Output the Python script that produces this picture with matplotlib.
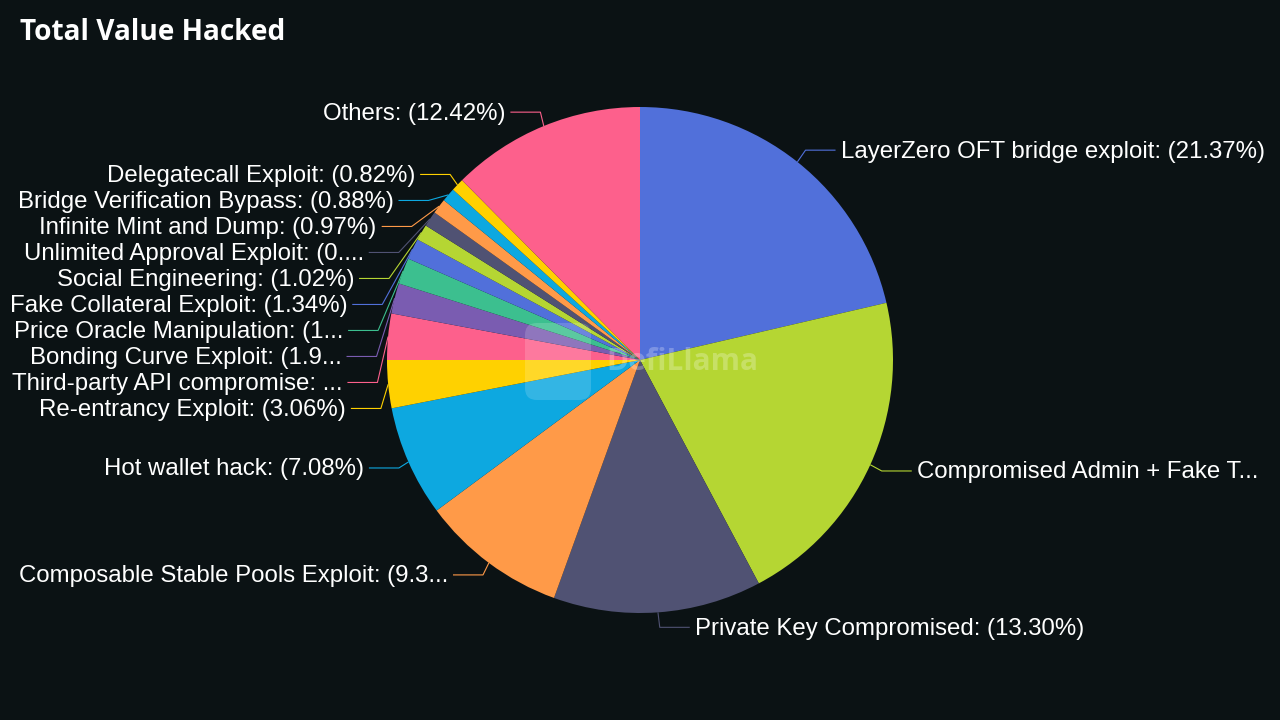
import numpy as np
import matplotlib
matplotlib.use('Agg')
import matplotlib.pyplot as plt
from matplotlib.patches import FancyBboxPatch

# hack categories and their share of total value hacked (%)
categories = ['LayerZero OFT bridge exploit', 'Compromised Admin + Fake Token Minting',
              'Private Key Compromised', 'Composable Stable Pools Exploit', 'Hot wallet hack',
              'Re-entrancy Exploit', 'Third-party API compromise', 'Bonding Curve Exploit',
              'Price Oracle Manipulation', 'Fake Collateral Exploit', 'Social Engineering',
              'Unlimited Approval Exploit', 'Infinite Mint and Dump', 'Bridge Verification Bypass',
              'Delegatecall Exploit', 'Others']
shares = [21.37, 20.85, 13.30, 9.34, 7.08, 3.06, 2.95, 1.94, 1.67, 1.34, 1.02, 0.99, 0.97, 0.88, 0.82, 12.42]

palette = ['#5170da', '#b5d633', '#505273', '#ff9a48', '#0da8e0',
           '#ffd100', '#fd608c', '#7a5cb1', '#3cbf8f']
bg = '#0b1214'
label_font = 'Liberation Sans'
label_size = 17.28  # 24 px

fig = plt.figure(figsize=(12.8, 7.2), dpi=100, facecolor=bg)
ax = fig.add_axes([0, 0, 1, 1])
ax.set_facecolor(bg)

cx, cy, r = 640, 360, 253
colors = [palette[i % len(palette)] for i in range(len(shares))]
wedges, _ = ax.pie(shares, colors=colors, startangle=270, counterclock=True,
                   radius=r, center=(cx, cy), wedgeprops=dict(linewidth=0))
ax.set_xlim(0, 1280)
ax.set_ylim(720, 0)
ax.set_aspect('equal')
ax.axis('off')

# label layout: start on a ring outside the pie, push overlapping labels down,
# then put the elbows back on an ellipse round the pie
ring = 268
ell_a, ell_b, ell_cx = 264.5, 268, 641
items = []
for w, name, val, col in zip(wedges, categories, shares, colors):
    th = np.deg2rad((w.theta1 + w.theta2) / 2)
    side = 1 if np.cos(th) >= 0 else -1
    items.append(dict(ex=cx + r * np.cos(th), ey=cy + r * np.sin(th),
                      ly=cy + ring * np.sin(th), side=side, col=col,
                      text=f'{name}: ({val:.2f}%)'))

for s in (1, -1):
    group = sorted([it for it in items if it['side'] == s], key=lambda it: it['ly'])
    for a, b in zip(group, group[1:]):
        b['ly'] = max(b['ly'], a['ly'] + 26)

fig.canvas.draw()
renderer = fig.canvas.get_renderer()


def width_of(t, s):
    t.set_text(s)
    return t.get_window_extent(renderer).width


def truncate(t, full, container):
    # echarts-style truncation: rough char estimate, then proportional trimming
    if width_of(t, full) <= container:
        return full
    content = container - width_of(t, '...')
    char_w = 11.06
    line = full
    w = width_of(t, line)
    for j in range(4):
        if w <= content or j >= 3:
            break
        if j == 0:
            n = int(np.ceil(content / char_w))
        else:
            n = int(np.floor(len(line) * content / w))
        line = line[:n]
        w = width_of(t, line)
    return line + '...'


for it in items:
    s = it['side']
    dy = it['ly'] - cy
    lx = ell_cx + s * ell_a * np.sqrt(max(1 - (dy / ell_b) ** 2, 0))
    ax.plot([it['ex'], lx, lx + s * 30], [it['ey'], it['ly'], it['ly']],
            color=it['col'], lw=0.8, solid_capstyle='butt')
    tx = lx + s * 35
    avail = 1270 - tx if s > 0 else tx - 9
    t = ax.text(tx, it['ly'] + 1.5, it['text'], color='white', fontsize=label_size,
                family=label_font, ha='left' if s > 0 else 'right', va='center')
    t.set_text(truncate(t, it['text'], avail))

# watermark
ax.add_patch(FancyBboxPatch((525, 323), 66, 77, boxstyle='round,pad=0,rounding_size=12',
                            fc='white', ec='none', alpha=0.16))
ax.text(606, 362, 'DefiLlama', color='white', alpha=0.25, fontsize=21.5,
        fontweight='bold', family='Open Sans', va='center', ha='left')

ax.text(20, 33, 'Total Value Hacked', color='white', fontsize=20.2, fontweight='bold',
        family='Open Sans', va='center', ha='left')

fig.savefig('out.png', dpi=100, facecolor=bg)
